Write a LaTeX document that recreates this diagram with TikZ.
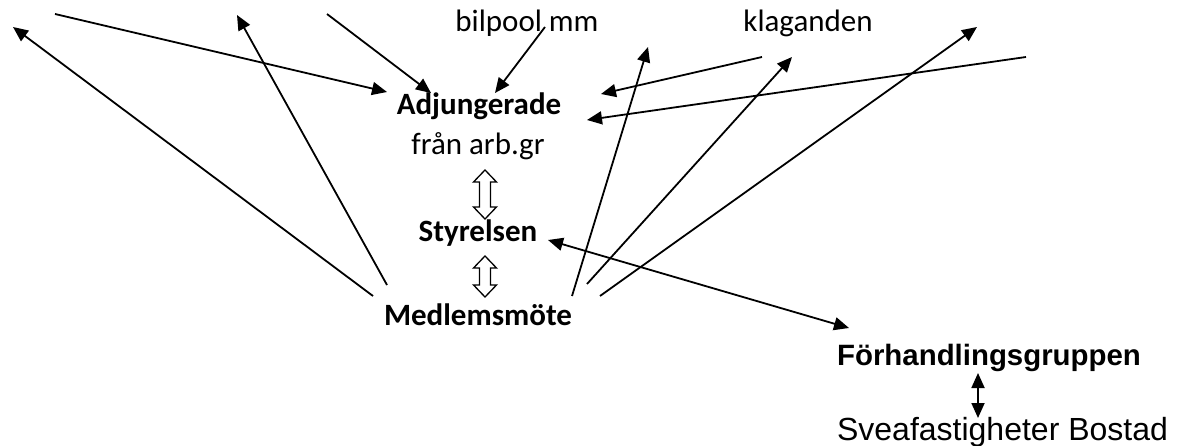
\documentclass[tikz,border=0pt]{standalone}
\usepackage{fontspec}
\setmainfont{Carlito}
\newfontfamily\arialfont{Liberation Sans}
\usetikzlibrary{arrows.meta}

\begin{document}
\begin{tikzpicture}[x=1pt, y=-1pt, every node/.style={inner sep=0pt, anchor=base, font=\fontsize{31}{37}\selectfont}]
\useasboundingbox (0,0) rectangle (1183,446);

\node (bil) at (527,32) {bilpool mm};
\node (klag) at (808,32) {klaganden};
\node (adj) at (479,115) {\bfseries Adjungerade};
\node (fran) at (478,155) {från arb.gr};
\node (styr) at (478,242) {\bfseries Styrelsen};
\node (medl) at (478,325) {\bfseries Medlemsmöte};
\tikzset{every node/.style={inner sep=0pt, anchor=base, font=\arialfont\fontsize{29.4}{35}\selectfont}}
\node (forh) at (989,365) {\bfseries Förhandlingsgruppen};
\tikzset{every node/.style={inner sep=0pt, anchor=base, font=\arialfont\fontsize{32}{38}\selectfont}}
\node (svea) at (1002.5,440) {Sveafastigheter Bostad};

% free ends
\coordinate (in1) at (55,14);   \coordinate (to1) at (387,92);
\coordinate (in2) at (327,14);  \coordinate (to2) at (431,93);
\coordinate (in3) at (545,27);  \coordinate (to3) at (495,93);
\coordinate (in4) at (762,57);  \coordinate (to4) at (601,94);
\coordinate (in5) at (1026,57); \coordinate (to5) at (587,120);
\coordinate (ut1) at (373,296); \coordinate (ma1) at (13,27);
\coordinate (ut2) at (387,285); \coordinate (ma2) at (237,15);
\coordinate (ut3) at (572,296); \coordinate (ma3) at (648,47);
\coordinate (ut4) at (587,284); \coordinate (ma4) at (792,57);
\coordinate (ut5) at (600,296); \coordinate (ma5) at (977,27);
\coordinate (st) at (548,240);  \coordinate (fg) at (849,328);
\coordinate (fg2) at (978,373); \coordinate (sv) at (978,418);

\tikzset{every node/.style={}};
\tikzset{mystyle/.style={-{Triangle[length=15pt,width=13pt]}, line width=1.8pt}};
\path (in1) edge [mystyle] node {} (to1);
\path (in2) edge [mystyle] node {} (to2);
\path (in3) edge [mystyle] node {} (to3);
\path (in4) edge [mystyle] node {} (to4);
\path (in5) edge [mystyle] node {} (to5);
\path (ut1) edge [mystyle] node {} (ma1);
\path (ut2) edge [mystyle] node {} (ma2);
\path (ut3) edge [mystyle] node {} (ma3);
\path (ut4) edge [mystyle] node {} (ma4);
\path (ut5) edge [mystyle] node {} (ma5);
\tikzset{mystyle/.style={{Triangle[length=15pt,width=13pt]}-{Triangle[length=15pt,width=13pt]}, line width=1.8pt}};
\path (st) edge [mystyle] node {} (fg);
\path (fg2) edge [mystyle] node {} (sv);

\tikzset{hollow/.style={draw, line width=1.3pt, fill=white, line join=miter}};
\foreach \t/\b in {170/219, 256/297}
  \draw[hollow] (485,\t) -- (496.5,\t+12) -- (490.5,\t+12) -- (490.5,\b-12) -- (496.5,\b-12)
    -- (485,\b) -- (473.5,\b-12) -- (479.5,\b-12) -- (479.5,\t+12) -- (473.5,\t+12) -- cycle;
\end{tikzpicture}
\end{document}
